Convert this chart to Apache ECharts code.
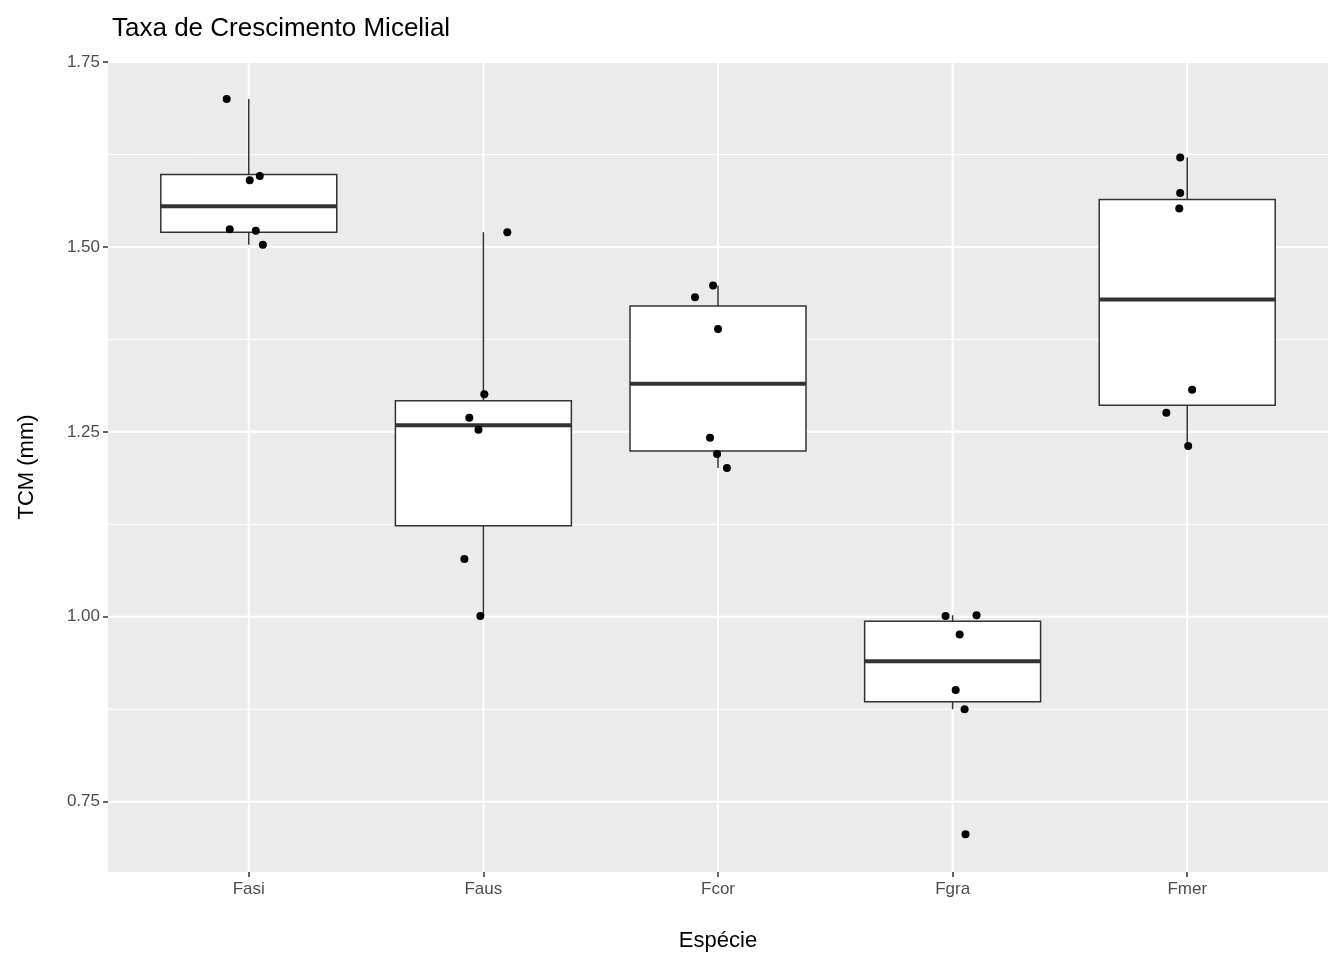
<!DOCTYPE html>
<html>
<head>
<meta charset="utf-8">
<script src="https://cdn.jsdelivr.net/npm/echarts@6/dist/echarts.min.js"></script>
<style>html,body{margin:0;padding:0;background:#fff}#c{width:1344px;height:960px}</style>
</head>
<body>
<div id="c"></div>
<script>
const categories = ['Fasi', 'Faus', 'Fcor', 'Fgra', 'Fmer'];
// [whiskerLow, q1, median, q3, whiskerHigh]
const boxStats = [
  [1.503, 1.520, 1.555, 1.598, 1.700],
  [1.001, 1.123, 1.259, 1.292, 1.520],
  [1.201, 1.224, 1.315, 1.420, 1.448],
  [0.875, 0.885, 0.940, 0.994, 1.002],
  [1.231, 1.286, 1.429, 1.564, 1.621]
];
// jittered observations [x, y]
const points = [
  [0.906, 1.700], [1.004, 1.590], [1.047, 1.596], [0.919, 1.524], [1.030, 1.522], [1.060, 1.503],
  [2.102, 1.520], [2.004, 1.301], [1.940, 1.269], [1.979, 1.253], [1.919, 1.078], [1.987, 1.001],
  [2.979, 1.448], [2.902, 1.432], [3.000, 1.389], [2.966, 1.242], [2.996, 1.220], [3.038, 1.201],
  [3.970, 1.001], [4.102, 1.002], [4.030, 0.976], [4.013, 0.901], [4.051, 0.875], [4.055, 0.706],
  [4.970, 1.621], [4.970, 1.573], [4.966, 1.552], [5.021, 1.307], [4.911, 1.276], [5.004, 1.231]
];
const yTicks = [0.75, 1.00, 1.25, 1.50, 1.75];
const yMinor = [0.875, 1.125, 1.375, 1.625];

const chart = echarts.init(document.getElementById('c'));
const halfW = 0.375;
const font = 'Liberation Sans';

chart.setOption({
  animation: false,
  title: {
    text: 'Taxa de Crescimento Micelial', left: 107, top: 11,
    textStyle: { fontSize: 26, fontWeight: 'normal', color: '#000', fontFamily: font }
  },
  grid: { left: 108, right: 16, top: 62, bottom: 88, show: true, backgroundColor: '#EBEBEB', borderWidth: 0 },
  xAxis: {
    type: 'value', min: 0.4, max: 5.6,
    name: 'Espécie', nameLocation: 'middle', nameGap: 58,
    nameTextStyle: { fontSize: 22, color: '#000', fontFamily: font },
    axisLine: { show: false },
    splitLine: { show: false },
    axisTick: { customValues: [1, 2, 3, 4, 5], length: 5, lineStyle: { color: '#333', width: 1.5 } },
    axisLabel: {
      customValues: [1, 2, 3, 4, 5], fontSize: 17, color: '#4D4D4D', margin: 9, fontFamily: font,
      formatter: v => categories[Math.round(v) - 1]
    }
  },
  yAxis: {
    type: 'value', min: 0.655, max: 1.75,
    name: 'TCM (mm)', nameLocation: 'middle', nameGap: 70, nameRotate: 90,
    nameTextStyle: { fontSize: 22, color: '#000', fontFamily: font },
    axisLine: { show: false },
    splitLine: { show: false },
    axisTick: { show: true, customValues: yTicks, length: 5, lineStyle: { color: '#333', width: 1.5 } },
    axisLabel: {
      customValues: yTicks, fontSize: 17, color: '#4D4D4D', margin: 8, fontFamily: font,
      formatter: v => v.toFixed(2)
    }
  },
  series: [
    {
      // panel grid lines
      type: 'custom', z: 1, silent: true,
      data: [0],
      renderItem: (params, api) => {
        const children = [];
        const xL = api.coord([0.4, 1])[0], xR = api.coord([5.6, 1])[0];
        const yT = api.coord([1, 1.75])[1], yB = api.coord([1, 0.655])[1];
        yMinor.forEach(v => { const y = api.coord([1, v])[1]; children.push({ type: 'line', shape: { x1: xL, y1: y, x2: xR, y2: y }, style: { stroke: '#fff', lineWidth: 1 } }); });
        yTicks.forEach(v => { const y = api.coord([1, v])[1]; children.push({ type: 'line', shape: { x1: xL, y1: y, x2: xR, y2: y }, style: { stroke: '#fff', lineWidth: 2 } }); });
        categories.forEach((c, i) => { const x = api.coord([i + 1, 1])[0]; children.push({ type: 'line', shape: { x1: x, y1: yT, x2: x, y2: yB }, style: { stroke: '#fff', lineWidth: 2 } }); });
        return { type: 'group', children };
      }
    },
    {
      type: 'custom', z: 2,
      data: boxStats.map((s, i) => [i + 1].concat(s)),
      renderItem: (params, api) => {
        const x = api.value(0);
        const c = (xx, yy) => api.coord([xx, yy]);
        const lo = api.value(1), q1 = api.value(2), md = api.value(3), q3 = api.value(4), hi = api.value(5);
        const tl = c(x - halfW, q3), br = c(x + halfW, q1);
        const st = { stroke: '#333', lineWidth: 1.5 };
        return {
          type: 'group', children: [
            { type: 'line', shape: { x1: c(x, hi)[0], y1: c(x, hi)[1], x2: c(x, q3)[0], y2: c(x, q3)[1] }, style: st },
            { type: 'line', shape: { x1: c(x, q1)[0], y1: c(x, q1)[1], x2: c(x, lo)[0], y2: c(x, lo)[1] }, style: st },
            { type: 'rect', shape: { x: tl[0], y: tl[1], width: br[0] - tl[0], height: br[1] - tl[1] }, style: { fill: '#fff', stroke: '#333', lineWidth: 1.5 } },
            { type: 'line', shape: { x1: tl[0], y1: c(x, md)[1], x2: br[0], y2: c(x, md)[1] }, style: { stroke: '#333', lineWidth: 4 } }
          ]
        };
      }
    },
    {
      type: 'scatter', z: 3, data: points, symbolSize: 8,
      itemStyle: { color: '#000', opacity: 1 }
    }
  ]
});
</script>
</body>
</html>
